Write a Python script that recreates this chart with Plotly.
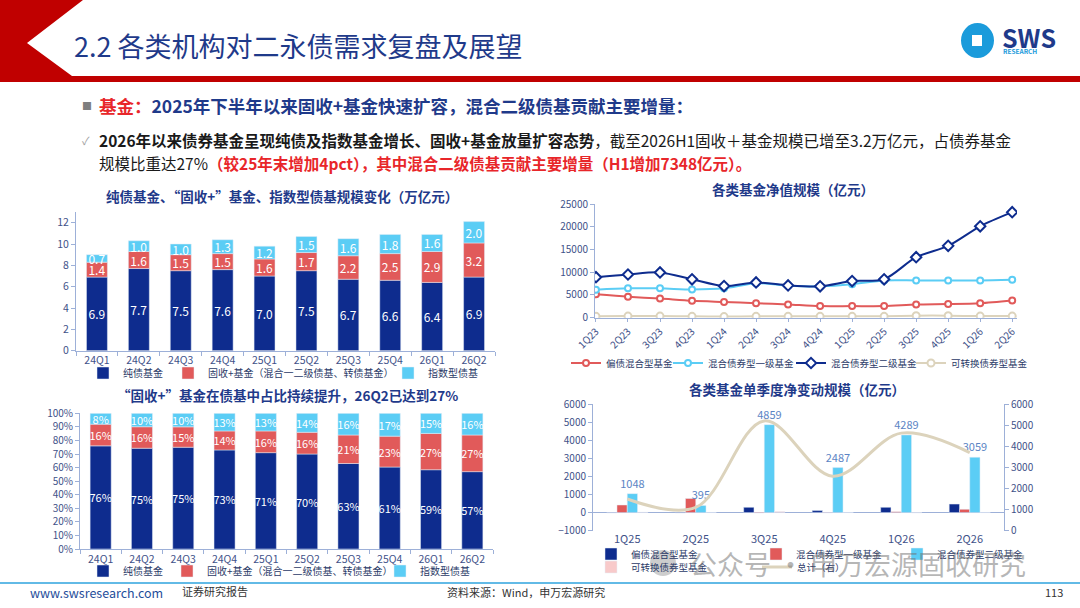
#二永债 slide: fund scale charts recreated with plotly

import numpy as np
import plotly.graph_objects as go

W, H = 1080, 608

# chart 1 / chart 2 data (万亿元, %)
quarters = ['24Q1', '24Q2', '24Q3', '24Q4', '25Q1', '25Q2', '25Q3', '25Q4', '26Q1', '26Q2']
pure_bond = [6.9, 7.7, 7.5, 7.6, 7.0, 7.5, 6.7, 6.6, 6.4, 6.9]
fixed_plus = [1.4, 1.6, 1.5, 1.5, 1.6, 1.7, 2.2, 2.5, 2.9, 3.2]
index_bond = [0.7, 1.0, 1.0, 1.3, 1.2, 1.5, 1.6, 1.8, 1.6, 2.0]

pure_pct = [76, 75, 75, 73, 71, 70, 63, 61, 59, 57]
plus_pct = [16, 16, 15, 14, 16, 16, 21, 23, 27, 27]
index_pct = [8, 10, 10, 13, 13, 14, 16, 17, 15, 16]

# chart 3 data (亿元)
nav_quarters = ['1Q23', '2Q23', '3Q23', '4Q23', '1Q24', '2Q24', '3Q24', '4Q24',
                '1Q25', '2Q25', '3Q25', '4Q25', '1Q26', '2Q26']
hybrid_bond = [5130, 4600, 4200, 3700, 3450, 3200, 2900, 2550, 2550, 2550, 2900, 3000, 3200, 3800]
primary_bond = [6150, 6450, 6450, 6200, 6450, 7600, 7050, 6900, 7350, 8200, 8200, 8200, 8200, 8350]
secondary_bond = [8900, 9500, 9950, 8450, 6950, 7750, 7100, 6900, 8050, 8450, 13300, 15800, 20100, 23200]
convertible = [300, 350, 350, 300, 250, 300, 300, 300, 300, 300, 450, 450, 350, 350]

# chart 4 data (亿元)
chg_quarters = ['1Q25', '2Q25', '3Q25', '4Q25', '1Q26', '2Q26']
chg_hybrid = [-15, -20, 290, 110, 290, 470]
chg_primary = [420, 780, -20, -10, 50, 180]
chg_secondary = [1048, 395, 4859, 2487, 4289, 3059]
chg_convertible = [20, 10, 60, 10, -10, 10]
chg_total = [1500, 1100, 5200, 2580, 4620, 3700]

NAVY = '#0E2C8E'
RED = '#E15A5A'
LBLUE = '#5BCDF5'
BEIGE = '#DCD3BC'
PINK = '#F8CACA'
TITLE = '#1F3A8A'
TICK = '#3F5289'
AX = '#9DB0D8'
FONT = 'Noto Sans CJK SC, Noto Sans, sans-serif'


def px(x):
    return x / W


def py(y):
    return 1 - y / H


def leg(x, y, size=10):
    return dict(orientation='h', x=px(x), y=py(y), xanchor='left', yanchor='middle',
                bgcolor='rgba(0,0,0,0)', font=dict(size=size, color='#2B3A67'),
                itemwidth=30, tracegroupgap=0, traceorder='normal')


fig = go.Figure()

# chart 1: stacked bars built with base
b2 = np.array(pure_bond)
b3 = b2 + np.array(fixed_plus)
series1 = [('纯债基金', pure_bond, np.zeros(len(quarters)), NAVY, 40),
           ('固收+基金（混合一二级债基、转债基金）', fixed_plus, b2, RED, 175),
           ('指数型债基', index_bond, b3, LBLUE, None)]
for name, vals, base, color, lw in series1:
    fig.add_trace(go.Bar(x=quarters, y=vals, base=base, name=name, marker_color=color,
                         width=0.5, offset=-0.25, offsetgroup='c1',
                         text=[f'{v:.1f}' for v in vals], textposition='inside',
                         insidetextanchor='middle', textangle=0, constraintext='none',
                         textfont=dict(color='white', size=12),
                         xaxis='x', yaxis='y', legend='legend', legendwidth=lw))

# chart 2: percentage stacks
tot = np.array(pure_pct) + np.array(plus_pct) + np.array(index_pct)
h1 = np.array(pure_pct) / tot * 100
h2 = np.array(plus_pct) / tot * 100
h3 = np.array(index_pct) / tot * 100
series2 = [('纯债基金', h1, np.zeros(len(quarters)), pure_pct, NAVY, 39),
           ('固收+基金（混合一二级债基、转债基金）', h2, h1, plus_pct, RED, 168),
           ('指数型债基', h3, h1 + h2, index_pct, LBLUE, None)]
for name, vals, base, labels, color, lw in series2:
    fig.add_trace(go.Bar(x=quarters, y=vals, base=base, name=name, marker_color=color,
                         width=0.51, offset=-0.255, offsetgroup='c2',
                         text=[f'{v}%' for v in labels], textposition='inside',
                         insidetextanchor='middle', textangle=0, constraintext='none',
                         textfont=dict(color='white', size=11),
                         xaxis='x2', yaxis='y2', legend='legend2', legendwidth=lw))

# chart 3: net asset value lines
series3 = [('偏债混合型基金', hybrid_bond, RED, 'circle', 6, 57),
           ('混合债券型一级基金', primary_bond, LBLUE, 'circle', 6, 78),
           ('混合债券型二级基金', secondary_bond, NAVY, 'diamond', 8, 75),
           ('可转换债券型基金', convertible, BEIGE, 'circle', 7, None)]
for name, vals, color, sym, size, lw in series3:
    fig.add_trace(go.Scatter(x=nav_quarters, y=vals, name=name, mode='lines+markers',
                             line=dict(color=color, width=2, shape='spline', smoothing=0.8),
                             marker=dict(symbol=sym, size=size, color='white',
                                         line=dict(color=color, width=2)),
                             xaxis='x3', yaxis='y3', legend='legend3', legendwidth=lw))

# chart 4: quarterly change, grouped bars + total line
series4 = [('偏债混合型基金', chg_hybrid, NAVY, -0.3, 'legend4', 120),
           ('混合债券型一级基金', chg_primary, RED, -0.15, 'legend4', 96),
           ('混合债券型二级基金', chg_secondary, LBLUE, 0.0, 'legend4', None),
           ('可转换债券型基金', chg_convertible, PINK, 0.15, 'legend5', 121)]
for name, vals, color, off, lg, lw in series4:
    is_main = vals is chg_secondary
    fig.add_trace(go.Bar(x=chg_quarters, y=vals, name=name, marker_color=color,
                         width=0.15, offset=off,
                         text=[str(v) for v in vals] if is_main else None,
                         textposition='outside' if is_main else 'none',
                         constraintext='none',
                         textfont=dict(color='#5B84C4', size=11), cliponaxis=False,
                         xaxis='x4', yaxis='y4', legend=lg, legendwidth=lw))
fig.add_trace(go.Scatter(x=chg_quarters, y=chg_total, name='总计（右）', mode='lines',
                         line=dict(color=BEIGE, width=3, shape='spline', smoothing=1),
                         xaxis='x4', yaxis='y5', legend='legend5'))

axis_common = dict(showline=True, linecolor=AX, linewidth=1, ticks='outside', ticklen=4,
                   tickcolor=AX, showgrid=False, zeroline=False,
                   tickfont=dict(size=10.5, color=TICK))

fig.update_layout(
    width=W, height=H, margin=dict(l=0, r=0, t=0, b=0, pad=0, autoexpand=False),
    paper_bgcolor='white', plot_bgcolor='white',
    font=dict(family=FONT, color='#333333'),
    barmode='group', showlegend=True,
    xaxis=dict(axis_common, domain=[px(76), px(495)], anchor='y', type='category',
               tickson='boundaries', range=[-0.5, 9.5]),
    yaxis=dict(axis_common, domain=[py(350.7), py(212)], anchor='x', range=[0, 13],
               dtick=2, tick0=0),
    xaxis2=dict(axis_common, domain=[px(80), px(493)], anchor='y2', type='category',
                tickson='boundaries', range=[-0.5, 9.5]),
    yaxis2=dict(axis_common, domain=[py(549), py(413.3)], anchor='x2', range=[0, 100],
                dtick=10, ticksuffix='%', tickfont=dict(size=10, color=TICK)),
    xaxis3=dict(axis_common, domain=[px(595), px(1017)], anchor='y3', type='category',
                range=[-0.03, 13.15], tickangle=-45, ticklen=3,
                tickfont=dict(size=10, color=TICK)),
    yaxis3=dict(axis_common, domain=[py(317.7), py(204)], anchor='x3', range=[0, 25000],
                dtick=5000, tickformat='d', tickfont=dict(size=10, color=TICK)),
    xaxis4=dict(domain=[px(593), px(1004)], anchor='y4', type='category', range=[-0.5, 5.5],
                showline=False, ticks='', showgrid=False, tickfont=dict(size=11, color=TICK)),
    yaxis4=dict(axis_common, domain=[py(530.7), py(404)], anchor='x4', range=[-1000, 6000],
                dtick=1000, zeroline=True, zerolinecolor=AX, zerolinewidth=1,
                tickformat='d', tickfont=dict(size=10, color=TICK)),
    yaxis5=dict(axis_common, overlaying='y4', side='right', anchor='x4', range=[0, 6000],
                dtick=1000, tickformat='d', tickfont=dict(size=10, color=TICK)),
    legend=leg(83, 373),
    legend2=leg(83, 571),
    legend3=leg(566, 363, 9.5),
    legend4=leg(591, 554, 9.5),
    legend5=leg(591, 567, 9.5),
)

# header / footer decoration
def path(points):
    return 'M' + ' L'.join(f'{px(x):.5f},{py(y):.5f}' for x, y in points) + ' Z'


shapes = [
    dict(type='path', xref='paper', yref='paper', line_width=0, fillcolor='#C00000',
         path=path([(0, 0), (83, 0), (27, 43), (72, 76), (1080, 76), (1080, 82), (0, 82)])),
    dict(type='circle', xref='paper', yref='paper', x0=px(961), x1=px(994), y0=py(58), y1=py(23),
         fillcolor='#1B9BDB', line_width=0),
    dict(type='rect', xref='paper', yref='paper', x0=px(972), x1=px(982), y0=py(46), y1=py(35),
         fillcolor='white', line_width=0),
    dict(type='line', xref='paper', yref='paper', x0=0, x1=1, y0=py(583), y1=py(583),
         line=dict(color='#2EA3DE', width=1.5)),
    dict(type='circle', xref='paper', yref='paper', x0=px(650), x1=px(676), y0=py(576), y1=py(550),
         fillcolor='rgba(130,130,130,0.4)', line_width=0),
]
fig.update_layout(shapes=shapes)


def note(x, y, s, size, color='#333333', xanchor='left', **kw):
    fig.add_annotation(x=px(x), y=py(y), xref='paper', yref='paper', text=s, showarrow=False,
                       xanchor=xanchor, yanchor='middle', font=dict(size=size, color=color), **kw)


note(72, 45, '2.2 各类机构对二永债需求复盘及展望', 27, TITLE)
note(1000, 37, '<b>SWS</b>', 25, '#1F3A8A')
note(1001, 51, '<b>RESEARCH</b>', 6.5, '#1B9BDB')

note(80, 105, '■', 10, '#7F7F7F')
note(97, 105, "<b><span style='color:#E8262A'>基金：</span>2025年下半年以来固收+基金快速扩容，"
              "混合二级债基贡献主要增量：</b>", 17.5, TITLE)
note(80, 140, '✓', 11, '#A0A0A0')
note(97, 140, '<b>2026年以来债券基金呈现纯债及指数基金增长、固收+基金放量扩容态势</b>，'
              '截至2026H1固收＋基金规模已增至3.2万亿元，占债券基金', 15.5, '#1A1A1A')
note(97, 163, "规模比重达27%<b><span style='color:#E8262A'>（较25年末增加4pct），"
              "其中混合二级债基贡献主要增量（H1增加7348亿元）。</span></b>", 15.5, '#1A1A1A')

note(282, 196, '<b>纯债基金、“固收+”基金、指数型债基规模变化（万亿元）</b>', 13.5, TITLE, 'center')
note(287, 395, '<b>“固收+”基金在债基中占比持续提升，26Q2已达到27%</b>', 13.5, TITLE, 'center')
note(793, 189, '<b>各类基金净值规模（亿元）</b>', 13.5, TITLE, 'center')
note(797, 389, '<b>各类基金单季度净变动规模（亿元）</b>', 13.5, TITLE, 'center')

note(688, 563, '公众号 · 申万宏源固收研究', 27, 'rgba(110,110,110,0.5)')

note(28, 592, 'www.swsresearch.com', 12.5, '#1F4E9A')
note(180, 591, '证券研究报告', 11, '#333333')
note(445, 592, '资料来源：Wind，申万宏源研究', 11, '#333333')
note(1043, 592, '113', 11, '#333333')

fig.write_html('out.html', config={'displayModeBar': False},
               post_script="document.body.style.margin='0px';")
